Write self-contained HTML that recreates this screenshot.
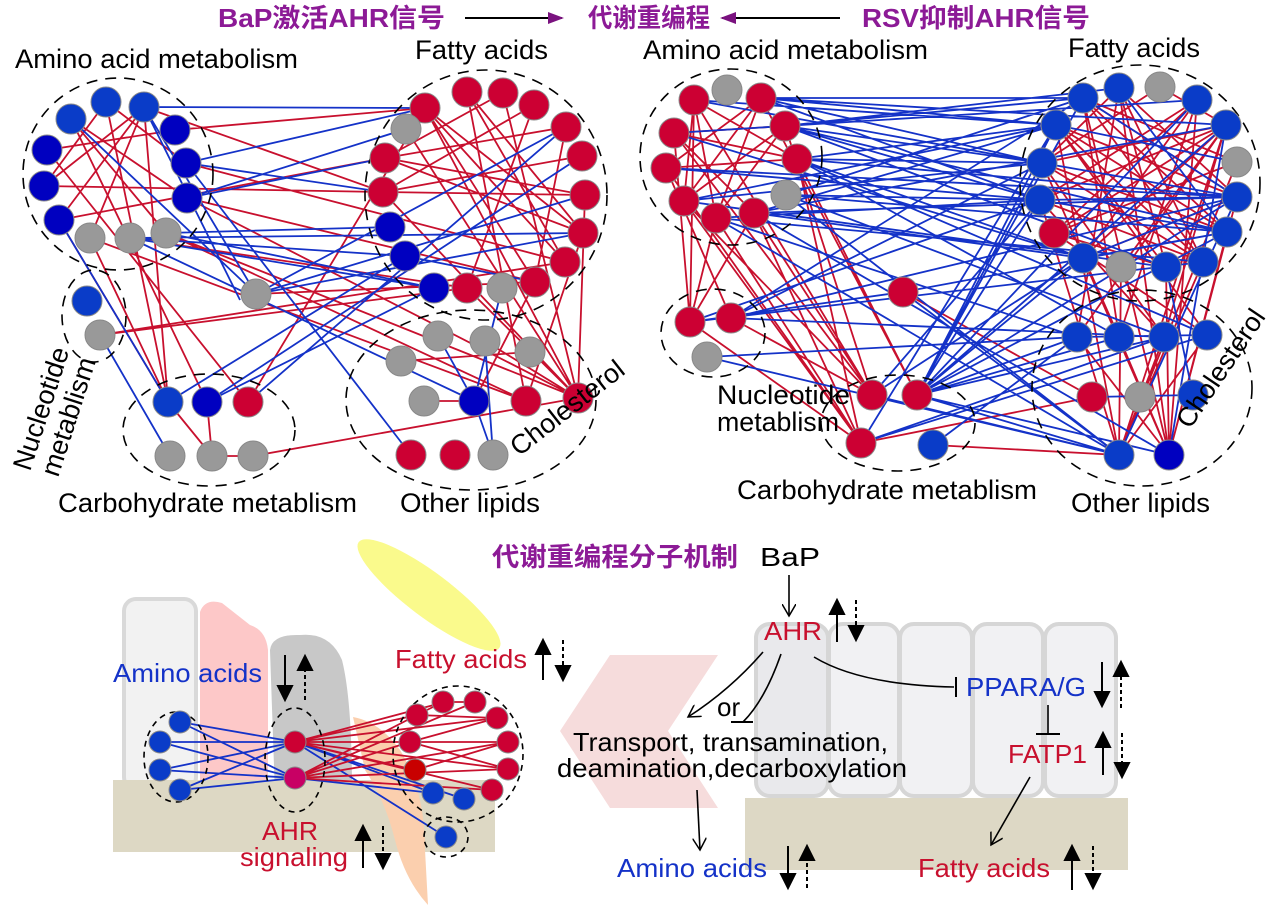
<!DOCTYPE html>
<html><head><meta charset="utf-8"><style>
html,body{margin:0;padding:0;background:#fff;}
svg{display:block;}
text{font-family:"Liberation Sans","Noto Sans CJK SC",sans-serif;}
.t{font-weight:bold;fill:#8c1a96;font-size:26px;}
.lb{font-size:27px;fill:#000;}
.bt{font-size:26px;}
.er{stroke:#c8102e;stroke-width:1.8;fill:none;}
.eb{stroke:#1432c8;stroke-width:1.8;fill:none;}
.dash{fill:none;stroke:#000;stroke-width:1.6;stroke-dasharray:11 8;}
.r{fill:#cc0033;stroke:#888;stroke-width:1;}
.b{fill:#0a3cc8;stroke:#888;stroke-width:1;}
.d{fill:#0000c0;stroke:#888;stroke-width:1;}
.g{fill:#999;stroke:#888;stroke-width:1;}
</style></head><body>
<svg width="1270" height="907" viewBox="0 0 1270 907" xmlns="http://www.w3.org/2000/svg">
<defs>
<marker id="pt" markerWidth="16" markerHeight="12" refX="14" refY="6" orient="auto" markerUnits="userSpaceOnUse"><path d="M0 0L16 6L0 12Z" fill="#7a127f"/></marker>
<marker id="oa" markerWidth="14" markerHeight="14" refX="12" refY="7" orient="auto" markerUnits="userSpaceOnUse"><path d="M0 0L12 7L0 14" fill="none" stroke="#000" stroke-width="1.5"/></marker>
</defs>

<text class="t" x="218" y="27" textLength="227" lengthAdjust="spacingAndGlyphs">BaP激活AHR信号</text>
<line x1="465" y1="18" x2="562" y2="18" stroke="#000" stroke-width="2" marker-end="url(#pt)"/>
<text class="t" x="588" y="27" textLength="122" lengthAdjust="spacingAndGlyphs">代谢重编程</text>
<line x1="840" y1="18" x2="722" y2="18" stroke="#000" stroke-width="2" marker-end="url(#pt)"/>
<text class="t" x="862" y="27" textLength="228" lengthAdjust="spacingAndGlyphs">RSV抑制AHR信号</text>

<path class="er" d="M106 102L168 402M144 107L168 402M71 119L207 402M59 220L168 402M90 238L168 402M47 150L248 402M144 107L383 192M187 198L535 282M186 163L565 262M59 220L385 158M130 238L467 288M166 233L526 401M71 119L187 198M106 102L186 163M144 107L59 220M47 150L175 130M44 186L144 107M106 102L44 186M71 119L166 233M144 107L90 238M100 335L565 262M100 335L467 288M256 294L535 282M248 402L425 108M253 456L578 398M175 130L425 108M44 186L383 192M425 108L565 262M467 92L583 233M503 93L385 158M534 105L383 192M566 127L385 158M582 156L383 192M585 195L385 158M583 233L425 108M565 262L467 92M383 192L585 195M385 158L583 233M425 108L578 398M503 93L578 398M585 195L578 398M583 233L526 401M467 288L578 398M535 282L474 401M485 341L578 398M401 361L530 352M424 401L474 401M212 456L253 456M207 402L212 456M168 402L212 456M534 105L467 288M566 127L535 282M425 108L535 282M406 129L578 398M467 92L526 401M383 192L578 398M90 238L526 401M187 198L578 398M166 233L578 398"/>
<path class="eb" d="M144 107L425 108M186 163L425 108M187 198L406 129M187 198L385 158M186 163L383 192M130 238L434 288M130 238L405 256M166 233L390 227M130 238L474 401M71 119L256 294M144 107L256 294M100 335L170 456M168 402L405 256M207 402L434 288M248 402L566 127M207 402L582 156M256 294L585 195M256 294L566 127M474 401L493 455M474 401L502 288M485 341L493 455M438 336L474 401M535 282L405 256M130 238L583 233M166 233L434 288M59 220L168 402M256 294L583 233M186 163L411 455M144 107L240 300"/>
<ellipse class="dash" cx="118" cy="174" rx="95" ry="96"/>
<ellipse class="dash" cx="486" cy="195" rx="121" ry="125"/>
<ellipse class="dash" cx="94" cy="316" rx="32" ry="46"/>
<ellipse class="dash" cx="209" cy="430" rx="86" ry="56"/>
<ellipse class="dash" cx="471" cy="400" rx="125" ry="90"/>
<g>
<circle class="b" cx="71" cy="119" r="15"/><circle class="b" cx="106" cy="102" r="15"/><circle class="b" cx="144" cy="107" r="15"/><circle class="d" cx="175" cy="130" r="15"/><circle class="d" cx="186" cy="163" r="15"/><circle class="d" cx="187" cy="198" r="15"/><circle class="d" cx="47" cy="150" r="15"/><circle class="d" cx="44" cy="186" r="15"/><circle class="d" cx="59" cy="220" r="15"/>
<circle class="g" cx="90" cy="238" r="15"/><circle class="g" cx="130" cy="238" r="15"/><circle class="g" cx="166" cy="233" r="15"/>
<circle class="b" cx="87" cy="301" r="15"/><circle class="g" cx="100" cy="335" r="15"/>
<circle class="b" cx="168" cy="402" r="15"/><circle class="d" cx="207" cy="402" r="15"/><circle class="r" cx="248" cy="402" r="15"/>
<circle class="g" cx="170" cy="456" r="15"/><circle class="g" cx="212" cy="456" r="15"/><circle class="g" cx="253" cy="456" r="15"/>
<circle class="g" cx="256" cy="294" r="15"/>
<circle class="r" cx="425" cy="108" r="15"/><circle class="r" cx="467" cy="92" r="15"/><circle class="r" cx="503" cy="93" r="15"/><circle class="r" cx="534" cy="105" r="15"/><circle class="r" cx="566" cy="127" r="15"/><circle class="r" cx="582" cy="156" r="15"/><circle class="r" cx="585" cy="195" r="15"/><circle class="r" cx="583" cy="233" r="15"/><circle class="r" cx="565" cy="262" r="15"/>
<circle class="g" cx="406" cy="129" r="15"/><circle class="r" cx="385" cy="158" r="15"/><circle class="r" cx="383" cy="192" r="15"/><circle class="d" cx="390" cy="227" r="15"/><circle class="d" cx="405" cy="256" r="15"/>
<circle class="d" cx="434" cy="288" r="15"/><circle class="r" cx="467" cy="288" r="15"/><circle class="g" cx="502" cy="288" r="15"/><circle class="r" cx="535" cy="282" r="15"/>
<circle class="g" cx="438" cy="336" r="15"/><circle class="g" cx="485" cy="341" r="15"/><circle class="g" cx="530" cy="352" r="15"/><circle class="g" cx="401" cy="361" r="15"/>
<circle class="g" cx="424" cy="401" r="15"/><circle class="d" cx="474" cy="401" r="15"/><circle class="r" cx="526" cy="401" r="15"/><circle class="r" cx="578" cy="398" r="15"/>
<circle class="r" cx="411" cy="455" r="15"/><circle class="r" cx="455" cy="455" r="15"/><circle class="g" cx="493" cy="455" r="15"/>
</g>
<text class="lb" x="15" y="68" textLength="283" lengthAdjust="spacingAndGlyphs">Amino acid metabolism</text>
<text class="lb" x="415" y="59" textLength="133" lengthAdjust="spacingAndGlyphs">Fatty acids</text>
<text class="lb" x="58" y="512" textLength="299" lengthAdjust="spacingAndGlyphs">Carbohydrate metablism</text>
<text class="lb" x="400" y="512" textLength="140" lengthAdjust="spacingAndGlyphs">Other lipids</text>
<text class="lb" transform="translate(30,472) rotate(-72)">Nucleotide</text>
<text class="lb" transform="translate(58,478) rotate(-72)">metablism</text>
<text class="lb" transform="translate(519,457) rotate(-38)">Cholesterol</text>

<path class="er" d="M694 100L797 159M694 100L684 201M674 133L785 126M674 133L754 213M666 168L761 98M666 168L797 159M761 98L684 201M785 126L716 218M797 159L674 133M684 201L785 126M716 218L694 100M754 213L674 133M761 98L716 218M694 100L690 322M674 133L690 322M666 168L861 443M684 201L861 443M716 218L861 443M754 213L872 395M797 159L861 443M761 98L917 395M785 126L872 395M674 133L872 395M690 322L861 443M666 168L731 318M716 218L690 322M754 213L690 322M731 318L872 395M903 292L1092 397M861 443L1092 397M933 445L1119 455M754 213L861 443M694 100L872 395M797 159L917 395M684 201L872 395
M1083 98L1237 197M1083 98L1227 232M1083 98L1203 262M1119 88L1042 163M1119 88L1166 267M1119 88L1237 197M1197 100L1040 200M1197 100L1083 258M1197 100L1054 233M1226 125L1040 200M1226 125L1083 258M1226 125L1042 163M1056 125L1203 262M1056 125L1166 267M1056 125L1237 197M1042 163L1227 232M1042 163L1203 262M1040 200L1226 125M1040 200L1203 262M1054 233L1226 125M1054 233L1197 100M1083 258L1197 100M1121 267L1226 125M1166 267L1056 125M1237 162L1054 233M1237 197L1083 258M1227 232L1056 125M1119 88L1077 337M1197 100L1119 337M1226 125L1164 337M1056 125L1207 335M1042 163L1164 337M1040 200L1119 455M1083 98L1169 455M1226 125L1119 455M1237 197L1169 455M1227 232L1169 455M1203 262L1119 455M1166 267L1169 455M1083 258L1169 455M1121 267L1119 455M1077 337L1169 455M1207 335L1119 455M1164 337L1119 455M1119 337L1169 455M1056 125L1119 455M1119 88L1169 455M1197 100L1169 455M1237 162L1119 455M1054 233L1207 335M1042 163L1119 337M1040 200L1164 337M1083 98L1119 337M1226 125L1077 337M1160 87L1042 163M1160 87L1226 125M1237 162L1083 98M1083 258L1226 125M1054 233L1166 267M1203 262L1040 200M1227 232L1083 98M1119 88L1203 262"/>
<path class="eb" d="M761 98L1083 98M761 98L1056 125M761 98L1042 163M785 126L1083 98M785 126L1119 88M785 126L1040 200M797 159L1056 125M797 159L1237 197M797 159L1042 163M786 195L1083 98M786 195L1227 232M786 195L1040 200M754 213L1226 125M754 213L1083 258M754 213L1237 197M716 218L1203 262M716 218L1077 337M684 201L1042 163M684 201L1166 267M666 168L1040 200M674 133L1197 100M694 100L1056 125M761 98L1226 125M785 126L1166 267M797 159L1119 337M786 195L1164 337M754 213L1169 455M716 218L1119 455M731 318L1042 163M731 318L1083 98M690 322L1040 200M707 357L1119 455M917 395L1083 98M917 395L1056 125M917 395L1042 163M917 395L1040 200M917 395L1083 258M917 395L1077 337M917 395L1119 337M917 395L1164 337M917 395L1119 455M917 395L1169 455M917 395L1197 100M917 395L1226 125M872 395L1040 200M872 395L1083 258M861 443L1056 125M861 443L1207 335M903 292L1227 232M903 292L1119 455M933 445L1077 337M731 318L1164 337M731 318L1237 197M690 322L903 292M786 195L1119 455M797 159L1207 335M1040 200L1237 197M1042 163L1237 197M1083 258L1227 232M1077 337L1207 335M1119 455L1237 197M1169 455L1226 125M1083 98L1237 197M1056 125L1237 162M1119 88L1227 232M1092 397L1193 395M1040 200L1227 232M1083 258L1237 197M1166 267L1193 395M761 98L1040 200M785 126L1042 163M666 168L1237 197M674 133L1083 258M694 100L1042 163M684 201L1056 125M797 159L1083 258M785 126L1227 232M716 218L1040 200M754 213L1056 125M917 395L1227 232M917 395L1237 197M872 395L1119 455M861 443L1164 337M707 357L1077 337M690 322L1203 262"/>
<ellipse class="dash" cx="731" cy="157" rx="91" ry="88"/>
<ellipse class="dash" cx="713" cy="333" rx="52" ry="44"/>
<ellipse class="dash" cx="898" cy="423" rx="77" ry="48"/>
<ellipse class="dash" cx="1140" cy="183" rx="120" ry="118"/>
<ellipse class="dash" cx="1142" cy="388" rx="110" ry="98"/>
<g>
<circle class="r" cx="694" cy="100" r="15"/><circle class="g" cx="727" cy="90" r="15"/><circle class="r" cx="761" cy="98" r="15"/><circle class="r" cx="674" cy="133" r="15"/><circle class="r" cx="785" cy="126" r="15"/><circle class="r" cx="666" cy="168" r="15"/><circle class="r" cx="797" cy="159" r="15"/><circle class="g" cx="786" cy="195" r="15"/><circle class="r" cx="684" cy="201" r="15"/><circle class="r" cx="716" cy="218" r="15"/><circle class="r" cx="754" cy="213" r="15"/>
<circle class="r" cx="690" cy="322" r="15"/><circle class="r" cx="731" cy="318" r="15"/><circle class="g" cx="707" cy="357" r="15"/>
<circle class="r" cx="903" cy="292" r="15"/>
<circle class="r" cx="872" cy="395" r="15"/><circle class="r" cx="917" cy="395" r="15"/><circle class="r" cx="861" cy="443" r="15"/><circle class="b" cx="933" cy="445" r="15"/>
<circle class="b" cx="1083" cy="98" r="15"/><circle class="b" cx="1119" cy="88" r="15"/><circle class="g" cx="1160" cy="87" r="15"/><circle class="b" cx="1197" cy="100" r="15"/><circle class="b" cx="1056" cy="125" r="15"/><circle class="b" cx="1226" cy="125" r="15"/><circle class="g" cx="1237" cy="162" r="15"/><circle class="b" cx="1042" cy="163" r="15"/><circle class="b" cx="1237" cy="197" r="15"/><circle class="b" cx="1040" cy="200" r="15"/><circle class="r" cx="1054" cy="233" r="15"/><circle class="b" cx="1227" cy="232" r="15"/><circle class="b" cx="1083" cy="258" r="15"/><circle class="g" cx="1121" cy="267" r="15"/><circle class="b" cx="1166" cy="267" r="15"/><circle class="b" cx="1203" cy="262" r="15"/>
<circle class="b" cx="1077" cy="337" r="15"/><circle class="b" cx="1119" cy="337" r="15"/><circle class="b" cx="1164" cy="337" r="15"/><circle class="b" cx="1207" cy="335" r="15"/>
<circle class="r" cx="1092" cy="397" r="15"/><circle class="g" cx="1140" cy="397" r="15"/><circle class="b" cx="1193" cy="395" r="15"/><circle class="b" cx="1119" cy="455" r="15"/><circle class="d" cx="1169" cy="455" r="15"/>
</g>
<text class="lb" x="643" y="59" textLength="285" lengthAdjust="spacingAndGlyphs">Amino acid metabolism</text>
<text class="lb" x="1068" y="57" textLength="132" lengthAdjust="spacingAndGlyphs">Fatty acids</text>
<text class="lb" x="717" y="404" textLength="133" lengthAdjust="spacingAndGlyphs">Nucleotide</text>
<text class="lb" x="717" y="431" textLength="122" lengthAdjust="spacingAndGlyphs">metablism</text>
<text class="lb" x="737" y="499" textLength="300" lengthAdjust="spacingAndGlyphs">Carbohydrate metablism</text>
<text class="lb" x="1071" y="512" textLength="139" lengthAdjust="spacingAndGlyphs">Other lipids</text>
<text class="lb" transform="translate(1190,430) rotate(-56)">Cholesterol</text>

<ellipse cx="429" cy="595" rx="88" ry="22" transform="rotate(37 429 595)" fill="#fafa8c"/>
<rect x="124" y="599" width="72" height="190" rx="12" fill="#f2f2f2" stroke="#d9d9d9" stroke-width="4"/>
<path d="M200 612Q205 598 222 603L250 625Q266 630 268 650L268 790L262 815L208 812L200 790Z" fill="#fdc8c8"/>
<path d="M270 650Q272 634 300 635Q330 632 342 660Q352 700 352 790L275 795Z" fill="#c8c8c8"/>
<rect x="113" y="780" width="382" height="72" fill="#ddd8c4"/>
<path d="M353 717Q380 722 400 750Q425 790 425 850L428 905Q405 880 395 840Q385 800 365 770Z" fill="#fbcfae"/>
<path class="eb" d="M180 722L295 742M180 722L295 778M160 742L295 742M160 742L295 778M160 770L295 742M160 770L295 778M180 790L295 742M180 790L295 778M295 742L433 793M295 742L446 837M295 742L464 799M295 778L433 793"/>
<path class="er" d="M295 742L417 715M295 742L445 702M295 742L497 718M295 742L508 742M295 742L508 769M295 742L492 790M295 742L410 742M295 742L415 770M295 778L417 715M295 778L475 702M295 778L508 742M295 778L410 742M295 778L492 790M295 778L508 769M417 715L497 718M410 742L497 718M410 742L508 769M415 770L508 742M417 715L443 702M443 702L475 702"/>
<ellipse class="dash" cx="176" cy="757" rx="32" ry="45" style="stroke-dasharray:6 5"/>
<ellipse class="dash" cx="295" cy="760" rx="30" ry="52" style="stroke-dasharray:6 5"/>
<ellipse class="dash" cx="458" cy="754" rx="65" ry="68" style="stroke-dasharray:6 5"/>
<ellipse class="dash" cx="446" cy="837" rx="22" ry="20" style="stroke-dasharray:6 5"/>
<g>
<circle class="b" cx="180" cy="722" r="11"/><circle class="b" cx="160" cy="742" r="11"/><circle class="b" cx="160" cy="770" r="11"/><circle class="b" cx="180" cy="790" r="11"/>
<circle class="r" cx="295" cy="742" r="11"/><circle cx="295" cy="778" r="11" fill="#c80064" stroke="#888"/>
<circle class="r" cx="417" cy="715" r="11"/><circle class="r" cx="443" cy="702" r="11"/><circle class="r" cx="475" cy="702" r="11"/><circle class="r" cx="497" cy="718" r="11"/><circle class="r" cx="508" cy="742" r="11"/><circle class="r" cx="508" cy="769" r="11"/><circle class="r" cx="492" cy="790" r="11"/><circle class="r" cx="410" cy="742" r="11"/><circle cx="415" cy="770" r="11" fill="#c80000" stroke="#888"/>
<circle class="b" cx="433" cy="793" r="11"/><circle class="b" cx="464" cy="799" r="11"/><circle class="b" cx="446" cy="837" r="11"/>
</g>
<text class="bt" x="113" y="682" fill="#1432c8" textLength="149" lengthAdjust="spacingAndGlyphs">Amino acids</text>
<text class="bt" x="395" y="668" fill="#c8102e" textLength="132" lengthAdjust="spacingAndGlyphs">Fatty acids</text>
<text class="bt" x="262" y="840" fill="#c8102e" textLength="56" lengthAdjust="spacingAndGlyphs">AHR</text>
<text class="bt" x="240" y="866" fill="#c8102e" textLength="108" lengthAdjust="spacingAndGlyphs">signaling</text>

<g stroke="#000" stroke-width="2" fill="#000">
<line x1="285" y1="655" x2="285" y2="688"/><path d="M278 686L292 686L285 700Z"/>
<line x1="305" y1="700" x2="305" y2="668" stroke-dasharray="4 3"/><path d="M298 670L312 670L305 656Z"/>
<line x1="543" y1="680" x2="543" y2="652"/><path d="M536 654L550 654L543 640Z"/>
<line x1="563" y1="640" x2="563" y2="668" stroke-dasharray="4 3"/><path d="M556 666L570 666L563 680Z"/>
<line x1="363" y1="868" x2="363" y2="838"/><path d="M356 840L370 840L363 826Z"/>
<line x1="383" y1="826" x2="383" y2="856" stroke-dasharray="4 3"/><path d="M376 854L390 854L383 868Z"/>
</g>

<text class="t" x="492" y="566" textLength="246" lengthAdjust="spacingAndGlyphs">代谢重编程分子机制</text>
<polygon points="610,655 718,655 668,731 718,808 610,808 560,731" fill="#f6dcdc"/>
<rect x="745" y="798" width="383" height="72" fill="#ddd8c5"/>
<g fill="#f1f1f3" stroke="#d6d6d6" stroke-width="4">
<rect x="756" y="624" width="72" height="172" rx="14" fill="#e9e9ec"/>
<rect x="829" y="624" width="70" height="172" rx="14"/>
<rect x="900" y="624" width="72" height="172" rx="14"/>
<rect x="973" y="624" width="70" height="172" rx="14"/>
<rect x="1045" y="624" width="71" height="172" rx="14"/>
</g>
<text class="bt" x="760" y="566" fill="#000" textLength="60" lengthAdjust="spacingAndGlyphs">BaP</text>
<line x1="789" y1="575" x2="789" y2="616" stroke="#000" stroke-width="1.6" marker-end="url(#oa)"/>
<text class="bt" x="764" y="640" fill="#c8102e" textLength="58" lengthAdjust="spacingAndGlyphs">AHR</text>
<path d="M814 657Q860 685 954 687" fill="none" stroke="#000" stroke-width="1.6"/>
<line x1="956" y1="677" x2="956" y2="697" stroke="#000" stroke-width="2"/>
<text class="bt" x="966" y="696" fill="#1432c8" textLength="120" lengthAdjust="spacingAndGlyphs">PPARA/G</text>
<line x1="1048" y1="705" x2="1048" y2="733" stroke="#000" stroke-width="1.6"/>
<line x1="1036" y1="734" x2="1060" y2="734" stroke="#000" stroke-width="2"/>
<text class="bt" x="1008" y="763" fill="#c8102e" textLength="79" lengthAdjust="spacingAndGlyphs">FATP1</text>
<line x1="1030" y1="777" x2="991" y2="845" stroke="#000" stroke-width="1.6" marker-end="url(#oa)"/>
<text class="bt" x="918" y="877" fill="#c8102e" textLength="132" lengthAdjust="spacingAndGlyphs">Fatty acids</text>
<path d="M763 652Q730 690 688 717" fill="none" stroke="#000" stroke-width="1.6" marker-end="url(#oa)"/>
<path d="M781 654Q765 700 743 722" fill="none" stroke="#000" stroke-width="1.6"/>
<line x1="731" y1="722" x2="753" y2="722" stroke="#000" stroke-width="2"/>
<text class="bt" x="717" y="716" fill="#000">or</text>
<text class="bt" x="573" y="751" fill="#000" textLength="315" lengthAdjust="spacingAndGlyphs">Transport, transamination,</text>
<text class="bt" x="557" y="777" fill="#000" textLength="350" lengthAdjust="spacingAndGlyphs">deamination,decarboxylation</text>
<line x1="697" y1="790" x2="700" y2="850" stroke="#000" stroke-width="1.6" marker-end="url(#oa)"/>
<text class="bt" x="617" y="877" fill="#1432c8" textLength="150" lengthAdjust="spacingAndGlyphs">Amino acids</text>
<g stroke="#000" stroke-width="2" fill="#000">
<line x1="837" y1="642" x2="837" y2="612"/><path d="M830 614L844 614L837 600Z"/>
<line x1="856" y1="600" x2="856" y2="628" stroke-dasharray="4 3"/><path d="M849 626L863 626L856 640Z"/>
<line x1="1102" y1="662" x2="1102" y2="694"/><path d="M1095 692L1109 692L1102 706Z"/>
<line x1="1121" y1="708" x2="1121" y2="674" stroke-dasharray="4 3"/><path d="M1114 676L1128 676L1121 662Z"/>
<line x1="1103" y1="775" x2="1103" y2="745"/><path d="M1096 747L1110 747L1103 733Z"/>
<line x1="1122" y1="733" x2="1122" y2="765" stroke-dasharray="4 3"/><path d="M1115 763L1129 763L1122 777Z"/>
<line x1="788" y1="846" x2="788" y2="876"/><path d="M781 874L795 874L788 888Z"/>
<line x1="807" y1="888" x2="807" y2="858" stroke-dasharray="4 3"/><path d="M800 860L814 860L807 846Z"/>
<line x1="1072" y1="890" x2="1072" y2="858"/><path d="M1065 860L1079 860L1072 846Z"/>
<line x1="1093" y1="846" x2="1093" y2="876" stroke-dasharray="4 3"/><path d="M1086 874L1100 874L1093 888Z"/>
</g>
</svg>
</body></html>
